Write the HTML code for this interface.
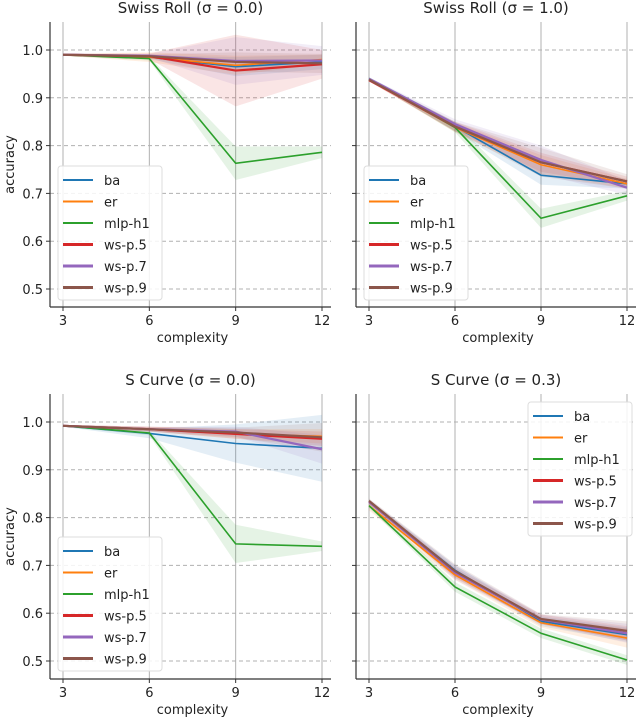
<!DOCTYPE html>
<html><head><meta charset="utf-8"><style>
body{margin:0;background:#fff;}
svg{display:block;font-family:"DejaVu Sans","Liberation Sans",sans-serif;}
</style></head><body>
<svg id="fig" width="640" height="723" viewBox="0 0 640 723" xmlns="http://www.w3.org/2000/svg"></svg>
<script>
const categories=[3,6,9,12];
const seriesNames=["ba","er","mlp-h1","ws-p.5","ws-p.7","ws-p.9"];
const colors=["#1f77b4","#ff7f0e","#2ca02c","#d62728","#9467bd","#8c564b"];
const yTicks=[0.5,0.6,0.7,0.8,0.9,1.0];
const yTickLabels=["0.5","0.6","0.7","0.8","0.9","1.0"];
const titles=["Swiss Roll (σ = 0.0)","Swiss Roll (σ = 1.0)","S Curve (σ = 0.0)","S Curve (σ = 0.3)"];
// panel 1
const p1ba=[.99,.985,.965,.975], p1er=[.99,.985,.968,.98], p1mlp=[.99,.982,.763,.786], p1ws5=[.99,.987,.957,.97], p1ws7=[.99,.988,.977,.978], p1ws9=[.99,.987,.975,.972];
const p1band=[[.002,.004,.02,.015],[.002,.01,.02,.01],[.002,.004,.035,.012],[.002,.006,.075,.03],[.002,.004,.05,.03],[.002,.004,.02,.02]];
// panel 2
const p2ba=[.94,.84,.738,.72], p2er=[.938,.838,.76,.72], p2mlp=[.94,.838,.648,.695], p2ws5=[.937,.84,.765,.725], p2ws7=[.94,.845,.77,.712], p2ws9=[.938,.84,.765,.725];
const p2band=[[.003,.01,.02,.01],[.003,.01,.02,.01],[.003,.01,.02,.01],[.003,.01,.02,.01],[.003,.01,.03,.015],[.003,.01,.03,.015]];
// panel 3
const p3ba=[.992,.976,.955,.945], p3er=[.992,.985,.975,.97], p3mlp=[.992,.977,.745,.74], p3ws5=[.992,.985,.975,.965], p3ws7=[.992,.985,.98,.943], p3ws9=[.992,.985,.978,.968];
const p3band=[[.002,.01,.04,.07],[.002,.005,.01,.015],[.002,.005,.04,.01],[.002,.005,.01,.015],[.002,.005,.01,.03],[.002,.005,.01,.03]];
// panel 4
const p4ba=[.833,.69,.583,.555], p4er=[.825,.68,.58,.548], p4mlp=[.825,.655,.558,.502], p4ws5=[.833,.685,.587,.558], p4ws7=[.833,.685,.587,.558], p4ws9=[.835,.688,.588,.563];
const p4band=[[.005,.01,.01,.015],[.01,.01,.01,.02],[.005,.01,.01,.01],[.005,.01,.01,.015],[.005,.015,.01,.02],[.005,.015,.01,.02]];

const panels=[
 {data:[p1ba,p1er,p1mlp,p1ws5,p1ws7,p1ws9],band:p1band,x0:63,x1:322,y1:50,y05:289,spL:50,spR:331,top:22,bot:307,labels:true,leg:[58,166]},
 {data:[p2ba,p2er,p2mlp,p2ws5,p2ws7,p2ws9],band:p2band,x0:369,x1:627,y1:50,y05:289,spL:356,spR:636,top:22,bot:307,labels:false,leg:[364,166]},
 {data:[p3ba,p3er,p3mlp,p3ws5,p3ws7,p3ws9],band:p3band,x0:63,x1:322,y1:422,y05:661,spL:50,spR:331,top:394,bot:679,labels:true,leg:[58,537]},
 {data:[p4ba,p4er,p4mlp,p4ws5,p4ws7,p4ws9],band:p4band,x0:369,x1:627,y1:422,y05:661,spL:356,spR:636,top:394,bot:679,labels:false,leg:[528,402]}
];
const svg=document.getElementById('fig');
const NS="http://www.w3.org/2000/svg";
function mk(tag,attrs,parent){const e=document.createElementNS(NS,tag);for(const k in attrs)e.setAttribute(k,attrs[k]);(parent||svg).appendChild(e);return e;}
panels.forEach((p,pi)=>{
 const g=mk('g',{});
 
 
 const xs=v=>p.x0+(v-3)/9*(p.x1-p.x0);
 const ys=v=>p.y05+(v-0.5)/0.5*(p.y1-p.y05);
 // grid
 categories.forEach(c=>{const l=mk('line',{x1:xs(c),x2:xs(c),y1:p.top,y2:p.bot,stroke:'#b0b0b0','stroke-width':1},g);
  });
 yTicks.forEach(t=>{const l=mk('line',{x1:p.spL,x2:p.spR,y1:ys(t),y2:ys(t),stroke:'#b0b0b0','stroke-width':1,'stroke-dasharray':'4,3'},g);
  });
 // bands
 p.data.forEach((s,si)=>{
  const up=s.map((v,i)=>xs(categories[i])+','+ys(v+p.band[si][i]));
  const lo=s.map((v,i)=>xs(categories[i])+','+ys(v-p.band[si][i])).reverse();
  const b=mk('polygon',{points:up.concat(lo).join(' '),fill:colors[si],'fill-opacity':0.12},g);
  
 });
 p.data.forEach((s,si)=>{
  const l=mk('polyline',{points:s.map((v,i)=>xs(categories[i])+','+ys(v)).join(' '),fill:'none',stroke:colors[si],'stroke-width':si>=3?2.2:1.6},g);
  
 });
 // spines
 mk('line',{x1:p.spL,x2:p.spL,y1:p.top,y2:p.bot,stroke:'#333','stroke-width':1.2},g);
 mk('line',{x1:p.spL,x2:p.spR,y1:p.bot,y2:p.bot,stroke:'#333','stroke-width':1.2},g);
 categories.forEach(c=>{mk('line',{x1:xs(c),x2:xs(c),y1:p.bot,y2:p.bot+4,stroke:'#333'},g);
  const t=mk('text',{x:xs(c),y:p.bot+18,'font-size':13,'text-anchor':'middle',fill:'#222'},g);t.textContent=c;
  });
 yTicks.forEach((t,i)=>{mk('line',{x1:p.spL-4,x2:p.spL,y1:ys(t),y2:ys(t),stroke:'#333'},g);
  if(p.labels){const tx=mk('text',{x:p.spL-7,y:ys(t)+5,'font-size':13,'text-anchor':'end',fill:'#222'},g);tx.textContent=yTickLabels[i];
  }});
 const xl=mk('text',{x:(p.x0+p.x1)/2,y:p.bot+35,'font-size':13,'text-anchor':'middle',fill:'#222'},g);xl.textContent='complexity';
 
 if(p.labels){const yl=mk('text',{x:0,y:0,'font-size':13,'text-anchor':'middle',fill:'#222',transform:`translate(14,${(p.top+p.bot)/2}) rotate(-90)`},g);yl.textContent='accuracy';
  }
 const ti=mk('text',{x:(p.spL+p.spR)/2,y:p.top-9,'font-size':15,'text-anchor':'middle',fill:'#222'},g);ti.textContent=titles[pi];
 
 // legend
 const lg=mk('g',{},g);
 
 const [lx,ly]=p.leg;
 mk('rect',{x:lx,y:ly,width:104,height:134,rx:3,fill:'#fff','fill-opacity':0.85,stroke:'#ddd'},lg);
 seriesNames.forEach((n,si)=>{const yy=ly+14+si*21.5;
  mk('line',{x1:lx+5,x2:lx+35,y1:yy,y2:yy,stroke:colors[si],'stroke-width':si>=3?3:2},lg);
  const t=mk('text',{x:lx+46,y:yy+5,'font-size':13,fill:'#222'},lg);t.textContent=n;
  });
});
</script>
</body></html>
